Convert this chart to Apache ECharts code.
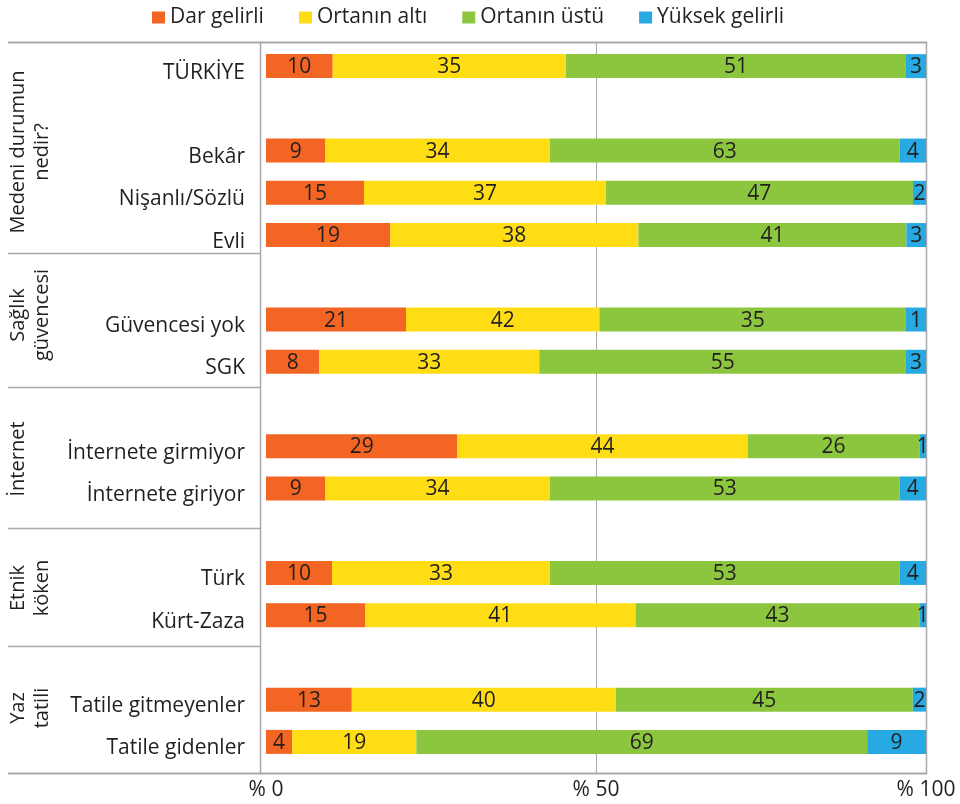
<!DOCTYPE html>
<html>
<head>
<meta charset="utf-8">
<script src="https://cdn.jsdelivr.net/npm/echarts@6/dist/echarts.min.js"></script>
<style>
html,body{margin:0;padding:0;background:#fff;}
#chart{width:960px;height:804px;}
</style>
</head>
<body>
<div id="chart"></div>
<script>
// ---- data ----
const categories = ['TÜRKİYE', ' ', 'Bekâr', 'Nişanlı/Sözlü', 'Evli', '  ', 'Güvencesi yok', 'SGK', '   ',
  'İnternete girmiyor', 'İnternete giriyor', '    ', 'Türk', 'Kürt-Zaza', '     ', 'Tatile gitmeyenler', 'Tatile gidenler'];
const seriesNames = ['Dar gelirli', 'Ortanın altı', 'Ortanın üstü', 'Yüksek gelirli'];
// segment lengths as drawn in the picture
const low      = [10, null, 9, 15, 19, null, 21, 8, null, 29, 9, null, 10, 15, null, 13, 4];
const lowerMid = [35, null, 34, 37, 38, null, 29, 33, null, 44, 34, null, 33, 41, null, 40, 19];
const upperMid = [51, null, 53, 47, 41, null, 46, 55, null, 26, 53, null, 53, 43, null, 45, 69];
const high     = [3, null, 4, 2, 3, null, 3, 3, null, 1, 4, null, 4, 1, null, 2, 9];
// values as printed on the bars
const lowPrinted      = [10, null, 9, 15, 19, null, 21, 8, null, 29, 9, null, 10, 15, null, 13, 4];
const lowerMidPrinted = [35, null, 34, 37, 38, null, 42, 33, null, 44, 34, null, 33, 41, null, 40, 19];
const upperMidPrinted = [51, null, 63, 47, 41, null, 35, 55, null, 26, 53, null, 53, 43, null, 45, 69];
const highPrinted     = [3, null, 4, 2, 3, null, 1, 3, null, 1, 4, null, 4, 1, null, 2, 9];
const groupLabels = [
  ['Medeni durumun', 'nedir?'],
  ['Sağlık', 'güvencesi'],
  ['İnternet', ''],
  ['Etnik', 'köken'],
  ['Yaz', 'tatili']
];
const xTicks = [0, 50, 100];

// ---- styling / layout ----
const FONT = '"Open Sans"';
const TXT = '#231f20';
const LINE = '#a7a9ac';
const colors = ['#f26522', '#ffdd15', '#8cc63f', '#27aae1'];
const groupCenters = [152, 315, 459, 588, 708];
const separatorYs = [253, 387, 528, 646];

const raw = [low, lowerMid, upperMid, high];
const printed = [lowPrinted, lowerMidPrinted, upperMidPrinted, highPrinted];
const rowSums = categories.map((c, i) => raw.reduce((s, arr) => s + (arr[i] || 0), 0));

const chart = echarts.init(document.getElementById('chart'), null, {renderer: 'canvas'});

const series = raw.map((arr, si) => ({
  name: seriesNames[si],
  type: 'bar',
  stack: 'total',
  barWidth: 24,
  itemStyle: {color: colors[si]},
  label: {
    show: true,
    position: 'inside',
    offset: [0, 1],
    color: TXT,
    fontFamily: FONT,
    fontSize: 21,
    formatter: p => printed[si][p.dataIndex]
  },
  data: arr.map((v, i) => v == null ? null : v * 100 / rowSums[i])
}));

chart.setOption({
  animation: false,
  textStyle: {fontFamily: FONT},
  legend: {
    top: 2,
    left: 147,
    itemWidth: 13,
    itemHeight: 12,
    itemGap: 35,
    icon: 'rect',
    textStyle: {fontSize: 21, color: TXT, fontFamily: FONT},
    data: seriesNames
  },
  grid: {left: 266, right: 34, top: 45, bottom: 41, containLabel: false},
  xAxis: {
    type: 'value',
    min: xTicks[0],
    max: xTicks[xTicks.length - 1],
    interval: 50,
    axisLine: {show: false},
    axisTick: {show: false},
    splitLine: {show: false},
    axisLabel: {
      margin: 17,
      fontSize: 21,
      color: TXT,
      fontFamily: FONT,
      formatter: v => '% ' + v
    }
  },
  yAxis: {
    type: 'category',
    inverse: true,
    data: categories,
    axisLine: {show: false},
    axisTick: {show: false},
    splitLine: {show: false},
    axisLabel: {
      margin: 21,
      formatter: v => '{c|' + v + '}',
      rich: {
        c: {fontSize: 21, color: TXT, fontFamily: FONT, padding: [13, 0, 0, 0]}
      }
    }
  },
  series: series
});

// frame, separators, gridline, group labels
const x50 = chart.convertToPixel({xAxisIndex: 0}, 50);
const line = (x1, y1, x2, y2, w) => ({
  type: 'line', silent: true,
  shape: {x1, y1, x2, y2},
  style: {stroke: LINE, lineWidth: w || 1.5}
});
const g = [
  line(8, 42.5, 927, 42.5, 2),
  line(8, 773.5, 927, 773.5, 2),
  line(260.5, 42, 260.5, 774),
  line(926.5, 42, 926.5, 774),
  line(Math.round(x50) + 0.5, 42, Math.round(x50) + 0.5, 774, 1)
];
separatorYs.forEach(y => g.push(line(8, y + 0.5, 260, y + 0.5)));
groupLabels.forEach((lines, gi) => {
  lines.forEach((t, li) => {
    if (!t) return;
    g.push({
      type: 'text', silent: true,
      x: 18 + li * 24, y: groupCenters[gi],
      rotation: Math.PI / 2,
      style: {
        text: t, fill: TXT, fontSize: 20, fontFamily: FONT,
        align: 'center', verticalAlign: 'middle'
      }
    });
  });
});
chart.setOption({graphic: g});
</script>
</body>
</html>
